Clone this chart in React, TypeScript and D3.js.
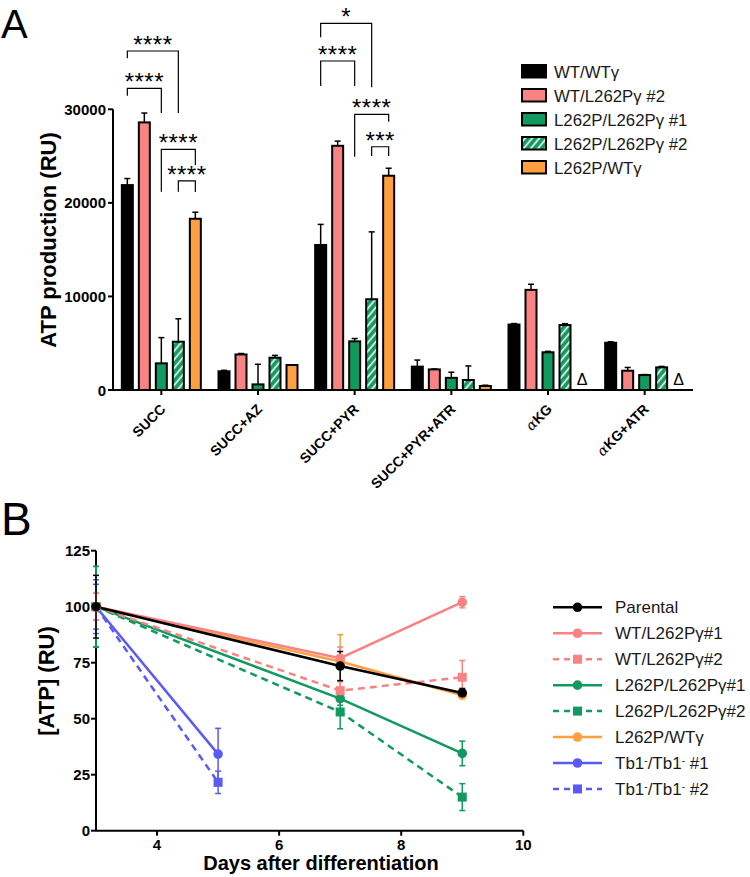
import React from "react";
import * as d3 from "d3";

// ---------- Panel A data ----------
const categories = ["SUCC", "SUCC+AZ", "SUCC+PYR", "SUCC+PYR+ATR", "αKG", "αKG+ATR"];
const barSeries = ["WT/WTγ", "WT/L262Pγ #2", "L262P/L262Pγ #1", "L262P/L262Pγ #2", "L262P/WTγ"];
const barColors = ["#000000", "#F98282", "#109A5F", "hatch", "#FF9F40"];
const wtwt = [21900, 2000, 15500, 2500, 7000, 5050];
const wtwtErr = [700, 100, 2200, 700, 100, 100];
const wtL2 = [28600, 3800, 26100, 2200, 10700, 2060];
const wtL2Err = [1000, 100, 500, 50, 600, 350];
const LL1 = [2850, 600, 5200, 1300, 4030, 1600];
const LL1Err = [2750, 2150, 300, 600, 100, 50];
const LL2 = [5160, 3450, 9700, 1070, 6940, 2420];
const LL2Err = [2450, 250, 7200, 1500, 150, 100];
const Lwt: (number | null)[] = [18300, 2670, 22900, 430, null, null];
const LwtErr: (number | null)[] = [700, 0, 800, 80, null, null];
const barValues = [wtwt, wtL2, LL1, LL2, Lwt];
const barErrors = [wtwtErr, wtL2Err, LL1Err, LL2Err, LwtErr];
const yTicksA = [0, 10000, 20000, 30000];

// significance brackets: group, from series, to series, top, left end, right end (value units)
const brGroup = [0, 0, 0, 0, 2, 2, 2, 2];
const brFrom = [0, 0, 2, 3, 0, 0, 2, 3];
const brTo = [3, 2, 4, 4, 3, 2, 4, 4];
const brTop = [36230, 32240, 25720, 22340, 39190, 35160, 29460, 26000];
const brLeftEnd = [35450, 31450, 21190, 21190, 37690, 32490, 24930, 25010];
const brRightEnd = [29600, 29600, 24050, 21160, 32350, 32490, 28670, 25010];
const brLabel = ["****", "****", "****", "****", "*", "****", "****", "***"];

// ---------- Panel B data ----------
const lineSeries = [
  "Parental",
  "WT/L262Pγ#1",
  "WT/L262Pγ#2",
  "L262P/L262Pγ#1",
  "L262P/L262Pγ#2",
  "L262P/WTγ",
  "Tb1-/Tb1- #1",
  "Tb1-/Tb1- #2",
];
const lineColors = ["#000000", "#F98282", "#F98282", "#109A5F", "#109A5F", "#FF9F40", "#5A5AF5", "#5A5AF5"];
const lineDashed = [false, false, true, false, true, false, false, true];
const lineSquare = [false, false, true, false, true, false, false, true];
const daysLong = [3, 7, 9];
const daysShort = [3, 5];
const lineDays = [daysLong, daysLong, daysLong, daysLong, daysLong, daysLong, daysShort, daysShort];
const parental = [100, 73.5, 61.5];
const parentalErr = [14, 6.5, 2];
const wtL1B = [100, 77, 102];
const wtL1BErr = [6, 5, 2.5];
const wtL2B = [100, 62.5, 68.5];
const wtL2BErr = [6, 4, 7.5];
const LL1B = [100, 59, 34.5];
const LL1BErr = [18, 3, 5.5];
const LL2B = [100, 53, 15];
const LL2BErr = [18, 7.5, 6];
const LwtB = [100, 75.5, 60.5];
const LwtBErr = [6, 12, 1.5];
const tb1 = [100, 34.2];
const tb1Err = [12, 11.5];
const tb2 = [100, 21.6];
const tb2Err = [10, 5];
const lineValues = [parental, wtL1B, wtL2B, LL1B, LL2B, LwtB, tb1, tb2];
const lineErrors = [parentalErr, wtL1BErr, wtL2BErr, LL1BErr, LL2BErr, LwtBErr, tb1Err, tb2Err];
const yTicksB = [0, 25, 50, 75, 100, 125];
const xTicksB = [4, 6, 8, 10];

const FONT = "'Liberation Sans', Arial, Helvetica, sans-serif";

export default function App() {
  // Panel A scales
  const xA = d3.scaleBand<string>().domain(categories).range([113, 693]);
  const yA = d3.scaleLinear().domain([0, 30000]).range([390, 109.3]);
  const barPitch = 17;
  const barW = 11;
  const cx = (g: number, s: number) => (xA(categories[g]) as number) + xA.bandwidth() / 2 + (s - 2) * barPitch;

  // Panel B scales
  const xB = d3.scaleLinear().domain([3, 10]).range([96, 523.3]);
  const yB = d3.scaleLinear().domain([0, 125]).range([830.7, 550.7]);
  const lineGen = d3
    .line<[number, number]>()
    .x((d) => xB(d[0]))
    .y((d) => yB(d[1]));

  const fillFor = (s: number) => (barColors[s] === "hatch" ? "url(#hatch)" : barColors[s]);

  const labelTspans = (t: string) => {
    if (t.startsWith("α")) {
      return (
        <>
          <tspan fontFamily="'DejaVu Serif', serif" fontStyle="italic" fontWeight="normal">α</tspan>
          <tspan>{t.slice(1)}</tspan>
        </>
      );
    }
    return t;
  };

  const tbLabel = (t: string) => {
    const m = t.match(/^Tb1-\/Tb1- (#\d)$/);
    if (!m) return t;
    return (
      <>
        Tb1<tspan baselineShift="super" fontSize="10">-</tspan>/Tb1<tspan baselineShift="super" fontSize="10">-</tspan> {m[1]}
      </>
    );
  };

  const drawOrder = lineSeries.map((_, i) => i).reverse();

  return (
    <svg
      width={750}
      height={877}
      style={{ position: "absolute", left: 0, top: 0, background: "#fff" }}
      fontFamily={FONT}
    >
      <defs>
        <pattern id="hatch" patternUnits="userSpaceOnUse" width={5.5} height={5.5} patternTransform="rotate(40)">
          <rect width={5.5} height={5.5} fill="#109A5F" />
          <line x1={1.5} y1={0} x2={1.5} y2={5.5} stroke="#fff" strokeWidth={1.6} />
        </pattern>
      </defs>

      {/* Panel letters */}
      <text x={1} y={37.5} fontSize={40}>A</text>
      <text x={1} y={535} fontSize={46}>B</text>

      {/* ---------- Panel A ---------- */}
      <line x1={113} x2={113} y1={yA(0)} y2={yA(30000)} stroke="#000" strokeWidth={2} />
      {yTicksA.map((t) => (
        <g key={t}>
          <line x1={108} x2={113} y1={yA(t)} y2={yA(t)} stroke="#000" strokeWidth={2} />
          <text x={106} y={yA(t) + 5.5} textAnchor="end" fontSize={15} fontWeight="bold">{t}</text>
        </g>
      ))}
      <text
        transform={`translate(56,240) rotate(-90)`}
        textAnchor="middle"
        fontSize={22}
        fontWeight="bold"
      >
        ATP production (RU)
      </text>

      {/* bars */}
      {barValues.map((vals, s) =>
        vals.map((v, g) => {
          if (v === null) return null;
          const x = cx(g, s);
          const e = barErrors[s][g] ?? 0;
          return (
            <g key={`b${s}-${g}`}>
              {e > 0 && (
                <>
                  <line x1={x} x2={x} y1={yA(v)} y2={yA(v + e)} stroke="#000" strokeWidth={1.5} />
                  <line x1={x - 3} x2={x + 3} y1={yA(v + e)} y2={yA(v + e)} stroke="#000" strokeWidth={1.5} />
                </>
              )}
              <rect
                x={x - barW / 2}
                y={yA(v)}
                width={barW}
                height={yA(0) - yA(v)}
                fill={fillFor(s)}
                stroke="#000"
                strokeWidth={2}
              />
            </g>
          );
        })
      )}
      {Lwt.map((v, g) =>
        v === null ? (
          <text key={`d${g}`} x={cx(g, 4)} y={384.5} textAnchor="middle" fontSize={16}>Δ</text>
        ) : null
      )}

      {/* x axis */}
      <line x1={113} x2={693} y1={yA(0)} y2={yA(0)} stroke="#000" strokeWidth={2} />
      {categories.map((c) => {
        const x = (xA(c) as number) + xA.bandwidth() / 2;
        return (
          <g key={c}>
            <line x1={x} x2={x} y1={yA(0)} y2={yA(0) + 5} stroke="#000" strokeWidth={2} />
            <text
              transform={`translate(${x + 5},${yA(0) + 20}) rotate(-45)`}
              textAnchor="end"
              fontSize={14}
              fontWeight="bold"
            >
              {labelTspans(c)}
            </text>
          </g>
        );
      })}

      {/* significance brackets */}
      {brGroup.map((g, i) => {
        const x1 = cx(g, brFrom[i]);
        const x2 = cx(g, brTo[i]);
        const yt = yA(brTop[i]);
        return (
          <g key={`br${i}`}>
            <path
              d={`M${x1},${yA(brLeftEnd[i])}V${yt}H${x2}V${yA(brRightEnd[i])}`}
              fill="none"
              stroke="#000"
              strokeWidth={1.2}
            />
            <text x={(x1 + x2) / 2} y={yt + 2} textAnchor="middle" fontSize={24} letterSpacing={0.5}>
              {brLabel[i]}
            </text>
          </g>
        );
      })}

      {/* legend A */}
      {barSeries.map((s, i) => (
        <g key={s}>
          <rect x={522} y={65 + i * 24} width={24} height={12.5} fill={fillFor(i)} stroke="#000" strokeWidth={2} />
          <text x={554} y={77.5 + i * 24} fontSize={16.8} fill="#1a1a1a">{s}</text>
        </g>
      ))}

      {/* ---------- Panel B ---------- */}
      <line x1={96} x2={96} y1={yB(0)} y2={yB(125)} stroke="#000" strokeWidth={2} />
      {yTicksB.map((t) => (
        <g key={t}>
          <line x1={91} x2={96} y1={yB(t)} y2={yB(t)} stroke="#000" strokeWidth={2} />
          <text x={90} y={yB(t) + 5.5} textAnchor="end" fontSize={15} fontWeight="bold">{t}</text>
        </g>
      ))}
      <line x1={96} x2={xB(10)} y1={yB(0)} y2={yB(0)} stroke="#000" strokeWidth={2} />
      {xTicksB.map((t) => (
        <g key={t}>
          <line x1={xB(t)} x2={xB(t)} y1={yB(0)} y2={yB(0) + 5} stroke="#000" strokeWidth={2} />
          <text x={xB(t)} y={850} textAnchor="middle" fontSize={15} fontWeight="bold">{t}</text>
        </g>
      ))}
      <text x={321} y={870} textAnchor="middle" fontSize={20} fontWeight="bold">
        Days after differentiation
      </text>
      <text
        transform={`translate(54,681) rotate(-90)`}
        textAnchor="middle"
        fontSize={22}
        fontWeight="bold"
      >
        [ATP] (RU)
      </text>

      {/* lines */}
      {drawOrder.map((i) => {
        const pts = lineDays[i].map((d, k) => [d, lineValues[i][k]] as [number, number]);
        return (
          <path
            key={`l${i}`}
            d={lineGen(pts) || ""}
            fill="none"
            stroke={lineColors[i]}
            strokeWidth={2.5}
            strokeDasharray={lineDashed[i] ? "7,5" : undefined}
          />
        );
      })}
      {drawOrder.map((i) =>
        lineDays[i].map((d, k) => {
          const v = lineValues[i][k];
          const e = lineErrors[i][k];
          const x = xB(d);
          return (
            <g key={`e${i}-${k}`} stroke={lineColors[i]} strokeWidth={1.5}>
              <line x1={x} x2={x} y1={yB(v - e)} y2={yB(v + e)} />
              <line x1={x - 3} x2={x + 3} y1={yB(v - e)} y2={yB(v - e)} />
              <line x1={x - 3} x2={x + 3} y1={yB(v + e)} y2={yB(v + e)} />
            </g>
          );
        })
      )}
      {drawOrder.map((i) =>
        lineDays[i].map((d, k) => {
          const x = xB(d);
          const y = yB(lineValues[i][k]);
          return lineSquare[i] ? (
            <rect key={`m${i}-${k}`} x={x - 4.5} y={y - 4.5} width={9} height={9} fill={lineColors[i]} />
          ) : (
            <circle key={`m${i}-${k}`} cx={x} cy={y} r={4.8} fill={lineColors[i]} />
          );
        })
      )}

      {/* legend B */}
      {lineSeries.map((s, i) => {
        const y = 607.3 + i * 25.95;
        return (
          <g key={s}>
            <line
              x1={553}
              x2={602}
              y1={y}
              y2={y}
              stroke={lineColors[i]}
              strokeWidth={2.5}
              strokeDasharray={lineDashed[i] ? "6,5" : undefined}
            />
            {lineSquare[i] ? (
              <rect x={577.5 - 4.5} y={y - 4.5} width={9} height={9} fill={lineColors[i]} />
            ) : (
              <circle cx={577.5} cy={y} r={4.8} fill={lineColors[i]} />
            )}
            <text x={615} y={y + 6} fontSize={17} fill="#1a1a1a">{tbLabel(s)}</text>
          </g>
        );
      })}
    </svg>
  );
}
